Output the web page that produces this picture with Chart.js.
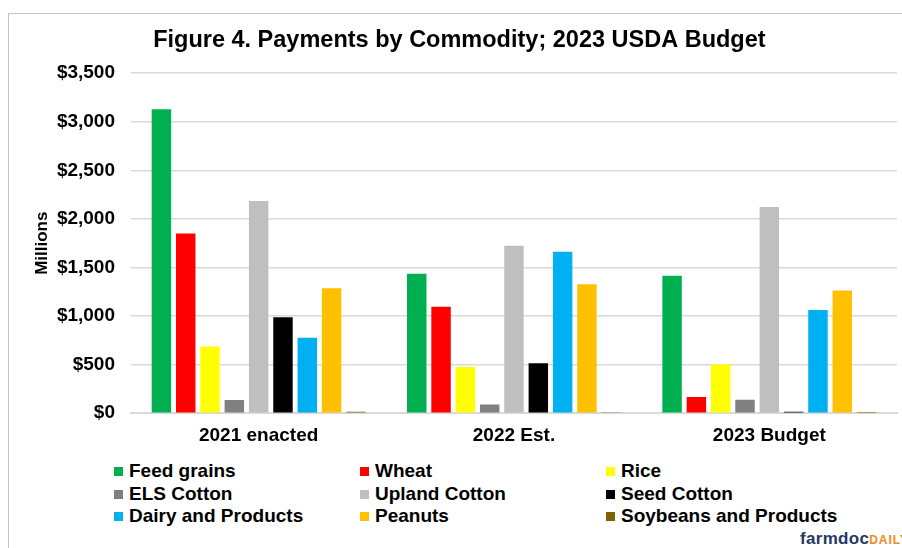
<!DOCTYPE html>
<html>
<head>
<meta charset="utf-8">
<script src="https://cdn.jsdelivr.net/npm/chart.js@4.4.1/dist/chart.umd.min.js"></script>
<style>
  html, body { margin: 0; padding: 0; background: #fff; }
  body { width: 902px; height: 548px; overflow: hidden; position: relative; font-family: "Liberation Sans", Arial, sans-serif; }
  #frame { position: absolute; left: 8px; top: 13px; width: 1000px; height: 1000px; border-left: 1.5px solid #c4c4c4; border-top: 1.5px solid #c4c4c4; }
  #wrap { position: absolute; left: 0; top: 0; width: 902px; height: 460px; }
  #legend { position: absolute; left: 0; top: 460px; width: 902px; }
  .lg-item { position: absolute; height: 22px; line-height: 22px; font-size: 19px; font-weight: bold; color: #000; white-space: nowrap; }
  .lg-box { display: inline-block; width: 9px; height: 9px; margin-right: 6px; vertical-align: 1px; }
  #brand { position: absolute; left: 800px; top: 529px; font-size: 17px; font-weight: bold; color: #1f3864; white-space: nowrap; letter-spacing: 0.3px; }
  #brand span { color: #f08a24; font-size: 12px; letter-spacing: 1px; }
</style>
</head>
<body>
<div id="frame"></div>
<div id="wrap"><canvas id="chart" width="902" height="460"></canvas></div>
<div id="legend"></div>
<div id="brand">farmdoc<span>DAILY</span></div>
<script>
// categories and series (millions of dollars)
const years = ['2021 enacted', '2022 Est.', '2023 Budget'];
const commodities = ['Feed grains', 'Wheat', 'Rice', 'ELS Cotton', 'Upland Cotton', 'Seed Cotton', 'Dairy and Products', 'Peanuts', 'Soybeans and Products'];
const colors = ['#00b050', '#ff0000', '#ffff00', '#808080', '#bfbfbf', '#000000', '#00b0f0', '#ffc000', '#7f6000'];

const feedGrains = [3130, 1436, 1415];
const wheat = [1850, 1097, 166];
const rice = [686, 476, 504];
const elsCotton = [135, 90, 138];
const uplandCotton = [2184, 1725, 2122];
const seedCotton = [987, 514, 15];
const dairy = [776, 1663, 1063];
const peanuts = [1287, 1328, 1263];
const soybeans = [15, 10, 12];

const series = [feedGrains, wheat, rice, elsCotton, uplandCotton, seedCotton, dairy, peanuts, soybeans];
const yTicks = [0, 500, 1000, 1500, 2000, 2500, 3000, 3500];

const datasets = commodities.map((name, i) => ({
  label: name,
  data: series[i],
  backgroundColor: colors[i],
  borderWidth: 0,
  categoryPercentage: 0.857,
  barPercentage: 0.8
}));

new Chart(document.getElementById('chart'), {
  type: 'bar',
  data: { labels: years, datasets },
  options: {
    responsive: false,
    animation: false,
    layout: { padding: { left: 10, right: 5, top: 0, bottom: 2 } },
    plugins: {
      legend: { display: false },
      tooltip: { enabled: false },
      title: {
        display: true,
        // leading en space nudges the centred title right, as in the original
        text: '\u2002Figure 4. Payments by Commodity; 2023 USDA Budget',
        color: '#000',
        font: { family: 'Liberation Sans', size: 23.5, weight: 'bold' },
        padding: { top: 26, bottom: 19 }
      }
    },
    scales: {
      x: {
        grid: { display: false, drawTicks: false },
        border: { color: '#d9d9d9', width: 2 },
        ticks: { color: '#000', padding: 11, font: { family: 'Liberation Sans', size: 19, weight: 'bold' } }
      },
      y: {
        min: 0,
        max: 3500,
        afterFit: s => { s.width = 121; },
        afterBuildTicks: s => { s.ticks = yTicks.map(v => ({ value: v })); },
        grid: { color: '#d9d9d9', lineWidth: 1.5, drawTicks: false },
        border: { display: false },
        ticks: {
          color: '#000',
          padding: 16,
          font: { family: 'Liberation Sans', size: 19, weight: 'bold' },
          callback: v => '$' + v.toLocaleString('en-US')
        },
        title: {
          display: true,
          text: 'Millions',
          color: '#000',
          font: { family: 'Liberation Sans', size: 17, weight: 'bold' },
          padding: { top: 22, bottom: 0 }
        }
      }
    }
  }
});

// legend laid out in three columns, like the original
const colX = [114, 360, 606];
const legend = document.getElementById('legend');
commodities.forEach((name, i) => {
  const el = document.createElement('div');
  el.className = 'lg-item';
  el.style.left = colX[i % 3] + 'px';
  el.style.top = (Math.floor(i / 3) * 22.5) + 'px';
  el.innerHTML = '<span class="lg-box" style="background:' + colors[i] + '"></span>' + name;
  legend.appendChild(el);
});
</script>
</body>
</html>
